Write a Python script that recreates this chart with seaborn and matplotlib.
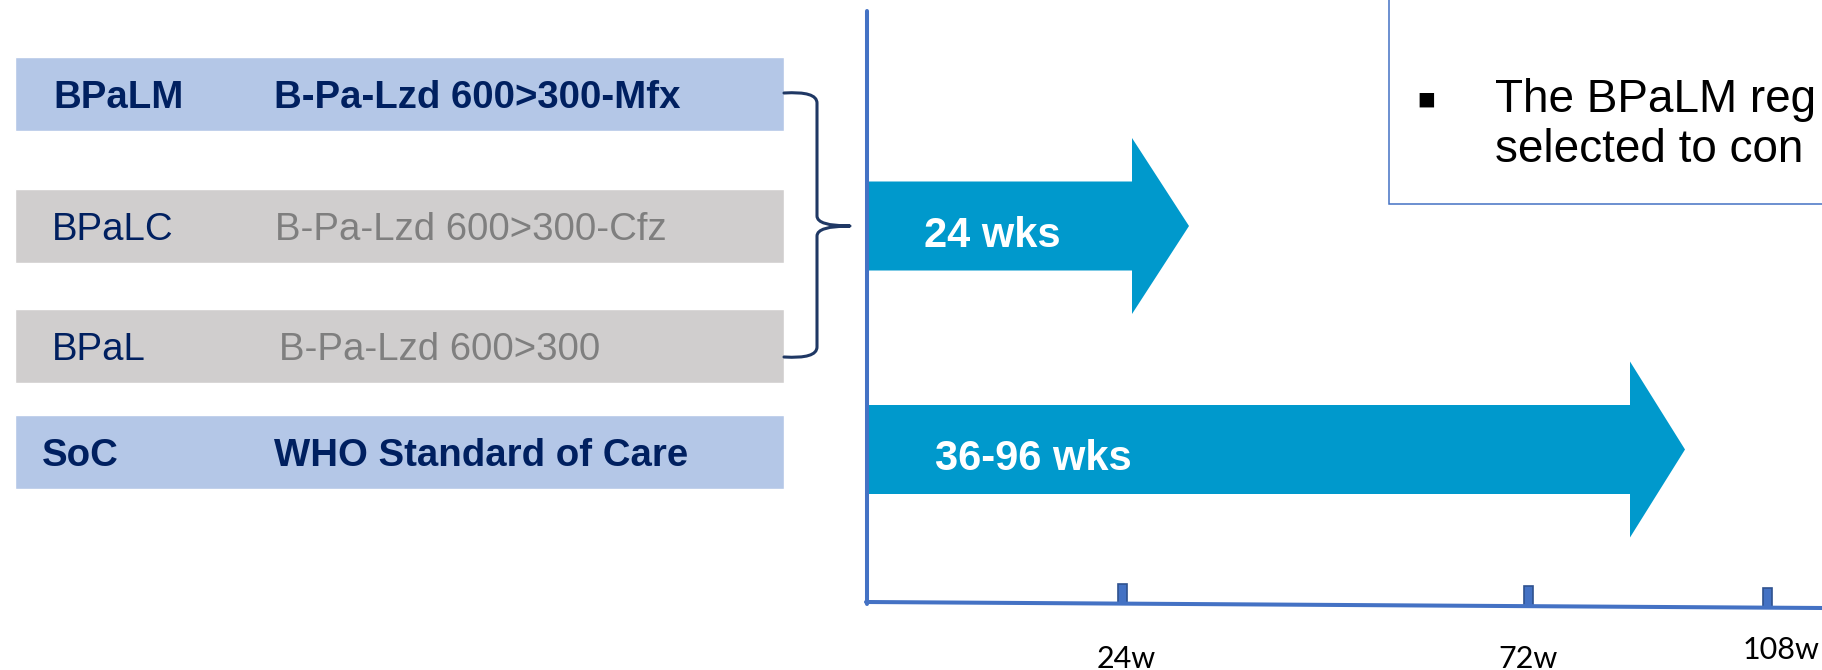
import matplotlib
matplotlib.use("Agg")
import matplotlib.pyplot as plt
import numpy as np
import pandas as pd
import seaborn as sns
from matplotlib.patches import Polygon, Rectangle, PathPatch
from matplotlib.path import Path
from matplotlib.lines import Line2D

# ---- chart content ----
regimens = ["BPaLM", "BPaLC", "BPaL", "SoC"]
descriptions = ["B-Pa-Lzd 600>300-Mfx", "B-Pa-Lzd 600>300-Cfz",
                "B-Pa-Lzd 600>300", "WHO Standard of Care"]
highlighted = [True, False, False, True]
durations = ["24 wks", "36-96 wks"]
week_labels = ["24w", "72w", "108w"]
note_lines = ["The BPaLM reg", "selected to con"]

# ---- colours ----
BLUE_BOX = "#B4C7E7"
GREY_BOX = "#D0CECE"
NAVY = "#002060"
GREY_TXT = "#7F7F7F"
ARROW = "#0099CC"
AXIS = "#4472C4"
BRACE = "#1F3864"

W, H = 1822, 670
sns.set_theme(style="white")
plt.rcParams["font.family"] = ["Liberation Sans", "DejaVu Sans"]

fig = plt.figure(figsize=(W / 100, H / 100), dpi=100)

# ---- layout (pixel units, y downwards) ----
row_y = [94, 226, 346, 452]
box_left, box_right = 15, 784
box_h = 74
col1_x = [53, 52, 52, 42]
col2_x = [274, 275, 279, 274]

# regimen boxes drawn as horizontal bars
ax_l = fig.add_axes([box_left / W, 0, (box_right - box_left) / W, 1])
df = pd.DataFrame({"row": row_y, "span": [1.0] * len(regimens),
                   "kind": ["hi" if h else "lo" for h in highlighted]})
min_gap = np.min(np.diff(sorted(row_y)))
sns.barplot(data=df, x="span", y="row", hue="kind", orient="h",
            native_scale=True, width=box_h / min_gap, dodge=False,
            palette={"hi": BLUE_BOX, "lo": GREY_BOX}, saturation=1,
            legend=False, ax=ax_l)
ax_l.set_xlim(0, 1)
ax_l.set_ylim(H, 0)
ax_l.axis("off")

# overlay axes in pixel coordinates
ax = fig.add_axes([0, 0, 1, 1])
ax.set_xlim(0, W)
ax.set_ylim(H, 0)
ax.axis("off")
ax.patch.set_alpha(0)

for name, desc, hi, y, x1, x2 in zip(regimens, descriptions, highlighted,
                                     row_y, col1_x, col2_x):
    wt = "bold" if hi else "normal"
    ax.text(x1, y + 13.5, name, fontsize=27.6, fontweight=wt, color=NAVY,
            va="baseline", ha="left")
    ax.text(x2, y + 13.5, desc, fontsize=27.6, fontweight=wt,
            color=NAVY if hi else GREY_TXT, va="baseline", ha="left")

# curly brace grouping the three experimental arms
bx0, bx1, tip = 784, 817, 850
top, mid, bot = 93, 226, 357
verts = [(bx0, top), (bx1, top - 2), (bx1, top + 10),
         (bx1, mid - 10), (bx1, mid), (tip, mid),
         (bx1, mid), (bx1, mid + 10),
         (bx1, bot - 10), (bx1, bot + 2), (bx0, bot)]
codes = [Path.MOVETO, Path.CURVE3, Path.CURVE3,
         Path.LINETO, Path.CURVE3, Path.CURVE3,
         Path.CURVE3, Path.CURVE3,
         Path.LINETO, Path.CURVE3, Path.CURVE3]
ax.add_patch(PathPatch(Path(verts, codes), fill=False, edgecolor=BRACE,
                       lw=2.2, capstyle="round", joinstyle="round"))

# duration arrows
arrow_y = [226, 449.5]
shaft_start = 869
shaft_end = [1132, 1630]
tip_x = [1189, 1685]
shaft_half = 44.5
head_half = 88
label_x = [924, 935]
for lab, y, se, tx, lx in zip(durations, arrow_y, shaft_end, tip_x, label_x):
    pts = [(shaft_start, y - shaft_half), (se, y - shaft_half),
           (se, y - head_half), (tx, y), (se, y + head_half),
           (se, y + shaft_half), (shaft_start, y + shaft_half)]
    ax.add_patch(Polygon(pts, closed=True, facecolor=ARROW, edgecolor="none"))
    ax.text(lx, y + 21, lab, fontsize=30, fontweight="bold", color="white",
            va="baseline", ha="left")

# timeline axes
ax.add_line(Line2D([866.5, 866.5], [11, 604], color=AXIS, lw=2.9))
ax.add_line(Line2D([866, W], [602, 608], color=AXIS, lw=2.9))
tick_x = [1122, 1528, 1767]
label_cx = [1126, 1528, 1781]
label_base = [668, 668, 659]
for tx, lx, lb, lab in zip(tick_x, label_cx, label_base, week_labels):
    ybase = 602 + (tx - 866) / (W - 866) * 6
    ax.add_patch(Rectangle((tx - 4.5, ybase - 20), 9, 20, facecolor=AXIS,
                           edgecolor="#2F528F", lw=1.2))
    ax.text(lx, lb, lab, fontsize=22, family=["Lato", "DejaVu Sans"],
            color="black", ha="center", va="baseline")

# note box
ax.add_patch(Rectangle((1389, -50), 700, 254, facecolor="white",
                       edgecolor=AXIS, lw=1.1, clip_on=True))
ax.text(1426, 100, "\u25aa", fontsize=21, family=["DejaVu Sans"],
        color="black", ha="center", va="center")
for i, line in enumerate(note_lines):
    ax.text(1495, 112 + 50 * i, line, fontsize=33, color="black",
            ha="left", va="baseline", clip_on=True)

fig.savefig("out.png", dpi=100)
